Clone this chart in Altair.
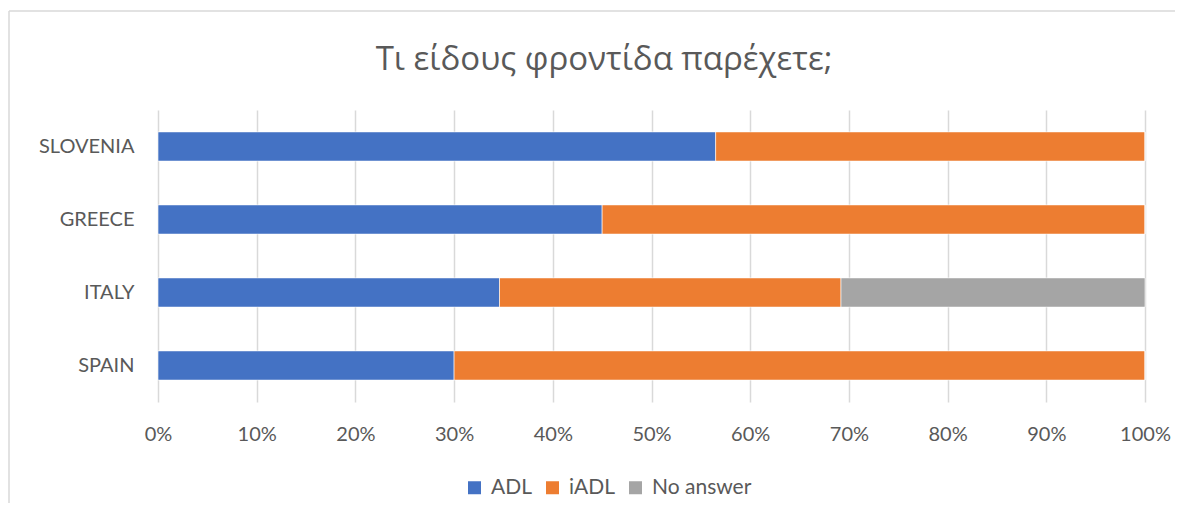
import altair as alt
import pandas as pd

countries = ["SLOVENIA", "GREECE", "ITALY", "SPAIN"]
series = ["ADL", "iADL", "No answer"]
adl = [0.565, 0.45, 0.346, 0.30]
iadl = [0.435, 0.55, 0.346, 0.70]
no_answer = [0.0, 0.0, 0.308, 0.0]
colors = ["#4472C4", "#ED7D31", "#A5A5A5"]
tick_values = [0, 0.1, 0.2, 0.3, 0.4, 0.5, 0.6, 0.7, 0.8, 0.9, 1.0]
title_text = "Τι είδους φροντίδα παρέχετε;"

rows = []
for i, c in enumerate(countries):
    for j, (s, vals) in enumerate(zip(series, [adl, iadl, no_answer])):
        rows.append({"country": c, "series": s, "value": vals[i], "order": j})
df = pd.DataFrame(rows)

FONT = "Lato"
TXT = "#595959"

bars = alt.Chart(df).mark_bar(stroke="white", strokeWidth=0.6).encode(
    x=alt.X("value:Q", stack="zero",
            scale=alt.Scale(domain=[0, 1], nice=False),
            axis=alt.Axis(values=tick_values, format=".0%", title=None,
                          domain=False, ticks=False, grid=True,
                          gridColor="#D9D9D9", gridWidth=1.5,
                          labelFlush=False,
                          labelFont=FONT, labelFontSize=20, labelColor=TXT,
                          labelPadding=22)),
    y=alt.Y("country:N", sort=countries, title=None,
            scale=alt.Scale(paddingInner=0.6, paddingOuter=0.3),
            axis=alt.Axis(domain=False, ticks=False, grid=False,
                          labelFont=FONT, labelFontSize=20, labelColor=TXT,
                          labelPadding=24)),
    color=alt.Color("series:N", sort=series,
                    scale=alt.Scale(domain=series, range=colors),
                    legend=alt.Legend(title=None, orient="none",
                                      direction="horizontal",
                                      legendX=306, legendY=367,
                                      symbolType="square", symbolSize=169,
                                      symbolStrokeWidth=0,
                                      labelFont=FONT, labelFontSize=21,
                                      labelColor=TXT, labelOffset=6,
                                      columnPadding=10)),
    order=alt.Order("order:Q"),
)

title = alt.Chart(alt.Data(values=[{"t": title_text}])).mark_text(
    font="Open Sans", fontSize=33, color=TXT, align="center",
    baseline="alphabetic").encode(
    text="t:N", x=alt.value(446), y=alt.value(-40))

border = alt.Chart(alt.Data(values=[{"a": 1}])).mark_rule(
    color="#D9D9D9", strokeWidth=1.5).encode(
    x=alt.value(-149), y=alt.value(-99), y2=alt.value(420))
border_top = alt.Chart(alt.Data(values=[{"a": 1}])).mark_rule(
    color="#D9D9D9", strokeWidth=1.5).encode(
    x=alt.value(-149), x2=alt.value(1040), y=alt.value(-99))

chart = alt.layer(bars, title, border, border_top).properties(
    width=987, height=292,
    autosize=alt.AutoSizeParams(type="none"),
    padding={"left": 150, "top": 102, "right": 30, "bottom": 101},
).configure_view(stroke=None)

chart.save("out.html", embed_options={"renderer": "svg", "actions": False})
